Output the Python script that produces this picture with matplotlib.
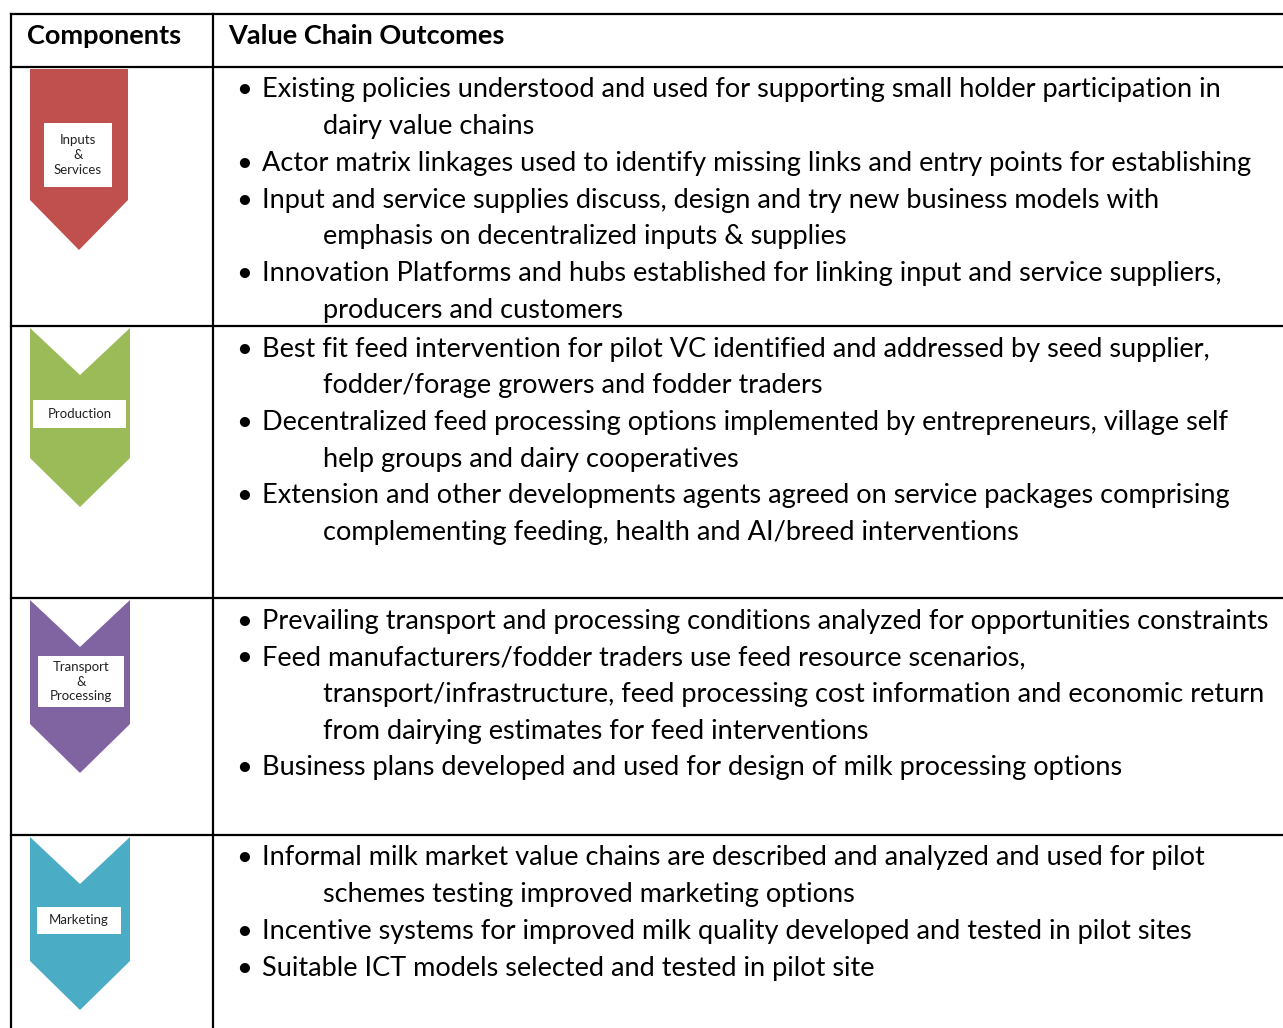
import matplotlib
matplotlib.use("Agg")
from matplotlib import pyplot as plt
from matplotlib.patches import Polygon, Rectangle

# table content
header = ["Components", "Value Chain Outcomes"]
components = ["Inputs\n&\nServices", "Production", "Transport\n&\nProcessing", "Marketing"]
chevron_colors = ["#C0504D", "#9BBB59", "#8064A2", "#4BACC6"]

# each outcome = list of wrapped lines as in the original document
outcomes = [
    [
        ["Existing policies understood and used for supporting small holder participation in",
         "dairy value chains"],
        ["Actor matrix linkages used to identify missing links and entry points for establishing"],
        ["Input and service supplies discuss, design and try new business models with",
         "emphasis on decentralized inputs & supplies"],
        ["Innovation Platforms and hubs established for linking input and service suppliers,",
         "producers and customers"],
    ],
    [
        ["Best fit feed intervention for pilot VC identified and addressed by seed supplier,",
         "fodder/forage growers and fodder traders"],
        ["Decentralized feed processing options implemented by entrepreneurs, village self",
         "help groups and dairy cooperatives"],
        ["Extension and other developments agents agreed on service packages comprising",
         "complementing feeding, health and AI/breed interventions"],
    ],
    [
        ["Prevailing transport and processing conditions analyzed for opportunities constraints"],
        ["Feed manufacturers/fodder traders use feed resource scenarios,",
         "transport/infrastructure, feed processing cost information and economic return",
         "from dairying estimates for feed interventions"],
        ["Business plans developed and used for design of milk processing options"],
    ],
    [
        ["Informal milk market value chains are described and analyzed and used for pilot",
         "schemes testing improved marketing options"],
        ["Incentive systems for improved milk quality developed and tested in pilot sites"],
        ["Suitable ICT models selected and tested in pilot site"],
    ],
]

# layout (pixel coordinates, y downward)
W, H = 1283, 1028
left, top, col_x = 11, 14, 213
row_tops = [67, 326, 598, 835]
line_gap = 36.7
first_offset = 23
font = "Lato"
body_size = 19.5

fig = plt.figure(figsize=(W / 100, H / 100), dpi=100)
ax = fig.add_axes([0, 0, 1, 1])
ax.set_xlim(0, W)
ax.set_ylim(H, 0)
ax.axis("off")

lw = 1.6
ax.plot([left, W], [top, top], color="black", lw=lw)
ax.plot([left, left], [top, H], color="black", lw=lw)
ax.plot([col_x, col_x], [top, H], color="black", lw=lw)
for y in row_tops:
    ax.plot([left, W], [y, y], color="black", lw=lw)

ax.text(27, 36, header[0], fontsize=19.5, fontweight="bold", family=font, va="center")
ax.text(228, 36, header[1], fontsize=19.5, fontweight="bold", family=font, va="center")

# chevrons
heights = [None, 179, 173, 173]
for i, (name, color) in enumerate(zip(components, chevron_colors)):
    t = row_tops[i] + 2
    if i == 0:
        pts = [(30, t), (128, t), (128, 200), (79, 250), (30, 200)]
        box = (44, 123, 68, 64)
    else:
        h = heights[i]
        notch = 47
        side = t + h - 49
        pts = [(30, t), (80, t + notch), (130, t), (130, side), (80, t + h), (30, side)]
        box = [(33, 400, 93, 28), (38, 656, 86, 51), (37, 907, 84, 27)][i - 1]
    ax.add_patch(Polygon(pts, closed=True, facecolor=color, edgecolor="none"))
    bx, by, bw, bh = box
    ax.add_patch(Rectangle((bx, by), bw, bh, facecolor="white", edgecolor="none"))
    ax.text(bx + bw / 2, by + bh / 2, name, fontsize=9.5, family=font, ha="center",
            va="center", linespacing=1.25, color="#222222")

# bullets
for r, items in enumerate(outcomes):
    y = row_tops[r] + first_offset
    for item in items:
        for j, line in enumerate(item):
            if j == 0:
                ax.text(244, y, "\u2022", fontsize=body_size, family=font, ha="center", va="center")
                ax.text(262, y, line, fontsize=body_size, family=font, va="center")
            else:
                ax.text(323, y, line, fontsize=body_size, family=font, va="center")
            y += line_gap

fig.savefig("out.png", dpi=100)
